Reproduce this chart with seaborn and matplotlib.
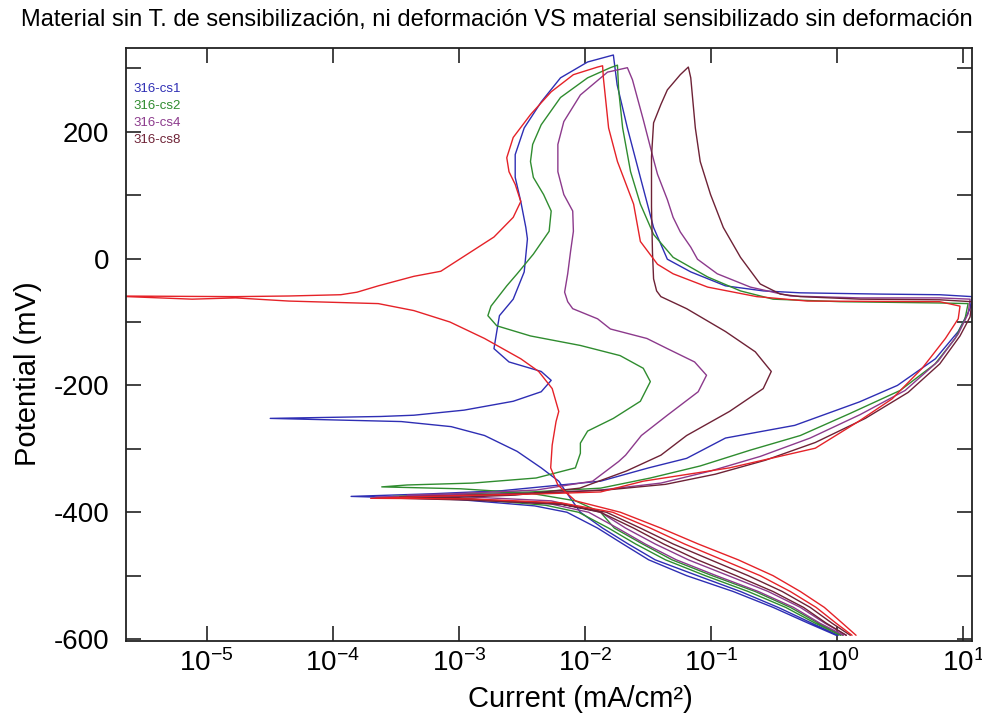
import matplotlib
matplotlib.use("Agg")
import matplotlib.pyplot as plt
import matplotlib.ticker as mticker
import seaborn as sns

# (current mA/cm2, potential mV) in scan order
cs1 = [(0.98, -594), (0.59, -575), (0.31, -550), (0.15, -525), (0.064, -500), (0.032, -475),
       (0.020, -450), (0.0126, -425), (0.0072, -400), (0.0040, -390), (0.0010, -380), (1.4e-4, -375),
       (5.9e-4, -371), (2.2e-3, -366), (6.4e-3, -357), (0.0133, -351), (0.032, -330), (0.064, -315),
       (0.13, -283), (0.46, -263), (1.5, -226), (3.0, -200), (6.0, -158), (9.1, -115), (11.3, -79),
       (11.7, -60), (6.5, -57), (2.2, -56), (0.51, -54), (0.26, -51), (0.13, -43), (0.069, -21),
       (0.045, -1), (0.035, 49), (0.0275, 128), (0.0217, 206), (0.018, 274), (0.0168, 321),
       (0.0105, 310), (0.0064, 285), (0.0045, 247), (0.0033, 206), (0.0028, 164), (0.0028, 128),
       (0.0031, 90), (0.0034, 49), (0.0035, 31), (0.0033, -21), (0.0027, -64), (0.0021, -90),
       (0.0020, -115), (0.0019, -142), (0.0025, -163), (0.0045, -178), (0.0054, -192), (0.0045, -210),
       (0.0027, -225), (0.0011, -239), (4.4e-4, -247), (2.4e-4, -249), (3.2e-5, -252),
       (3.5e-4, -257), (8.7e-4, -265), (1.6e-3, -279), (2.9e-3, -304), (4.5e-3, -330), (6.2e-3, -351),
       (7.2e-3, -370), (0.0092, -400), (0.0138, -425), (0.022, -450), (0.036, -475), (0.078, -500),
       (0.171, -525), (0.34, -550), (0.63, -575), (1.02, -594)]

cs2 = [(1.06, -594), (0.67, -575), (0.39, -550), (0.197, -525), (0.090, -500), (0.0435, -475),
       (0.0252, -450), (0.0154, -425), (0.0089, -400), (0.0049, -389), (1.24e-3, -379), (3.0e-4, -375),
       (1.03e-3, -371), (3.7e-3, -368), (0.0133, -362), (0.033, -346), (0.082, -327), (0.205, -302),
       (0.51, -279), (1.27, -244), (3.15, -208), (5.97, -166), (8.6, -126), (10.3, -95), (10.9, -71),
       (6.5, -70), (1.06, -68), (0.31, -64), (0.171, -51), (0.094, -29), (0.050, 2), (0.035, 38),
       (0.0275, 86), (0.023, 137), (0.0199, 206), (0.0185, 266), (0.0181, 305),
       (0.0159, 301), (0.0105, 285), (0.0064, 254), (0.0045, 211), (0.00385, 180), (0.0037, 153),
       (0.0039, 128), (0.0047, 101), (0.0054, 75), (0.0052, 43), (0.0039, 7), (0.0029, -24),
       (0.0024, -43), (0.0018, -75), (0.0017, -90), (0.0020, -106), (0.0037, -122), (0.0092, -137),
       (0.019, -153), (0.029, -173), (0.033, -194), (0.0275, -225), (0.0168, -252), (0.0105, -272),
       (0.0092, -291), (0.0092, -307), (0.0084, -330), (0.0041, -346), (1.29e-3, -354), (3.9e-4, -357),
       (2.45e-4, -360), (1.03e-3, -363), (3.7e-3, -370), (0.0084, -382), (0.0133, -400), (0.0171, -425),
       (0.0286, -450), (0.049, -475), (0.102, -500), (0.224, -525), (0.425, -550), (0.71, -575),
       (1.10, -594)]

cs4 = [(1.12, -594), (0.73, -575), (0.45, -550), (0.237, -525), (0.110, -500), (0.053, -475),
       (0.030, -450), (0.0181, -425), (0.0107, -400), (0.0054, -387), (1.03e-3, -379), (2.2e-4, -376),
       (8.6e-4, -373), (3.7e-3, -370), (0.0133, -365), (0.040, -354), (0.099, -335), (0.245, -312),
       (0.61, -283), (1.52, -246), (3.45, -208), (6.3, -162), (9.1, -119), (10.9, -87), (11.3, -64),
       (6.5, -62), (1.52, -62), (0.425, -59), (0.31, -53), (0.205, -45), (0.112, -24), (0.078, -1),
       (0.069, 18), (0.057, 42), (0.050, 65), (0.045, 93), (0.0376, 133), (0.035, 156), (0.029, 219),
       (0.0238, 282), (0.0217, 301),
       (0.0151, 294), (0.0092, 258), (0.0068, 216), (0.0061, 180), (0.0061, 137), (0.0068, 101),
       (0.0080, 75), (0.0081, 43), (0.0077, 12), (0.0073, -24), (0.0069, -53), (0.0073, -68),
       (0.0080, -79), (0.0126, -95), (0.0159, -111), (0.031, -126), (0.045, -142), (0.074, -163),
       (0.092, -184), (0.079, -210), (0.045, -247), (0.028, -279), (0.021, -310), (0.0185, -320),
       (0.0115, -351), (0.0041, -365), (8.6e-4, -371), (3.9e-4, -373),
       (1.24e-3, -376), (0.0054, -382), (0.0133, -400), (0.021, -425), (0.036, -450), (0.066, -475),
       (0.137, -500), (0.284, -525), (0.51, -550), (0.80, -575), (1.18, -594)]

cs8 = [(1.18, -594), (0.82, -575), (0.54, -550), (0.31, -525), (0.158, -500), (0.078, -475),
       (0.042, -450), (0.0243, -425), (0.0133, -400), (0.0064, -387), (1.24e-3, -379), (3.4e-4, -376),
       (1.24e-3, -373), (4.5e-3, -370), (0.0146, -365), (0.0435, -356), (0.108, -340), (0.269, -318),
       (0.67, -290), (1.67, -252), (3.65, -211), (6.5, -166), (9.4, -122), (11.3, -92), (11.7, -68),
       (6.5, -65), (1.52, -64), (0.51, -60), (0.354, -56), (0.245, -40), (0.171, 2), (0.125, 49),
       (0.099, 101), (0.082, 153), (0.075, 206), (0.069, 285), (0.066, 302),
       (0.057, 290), (0.045, 266), (0.040, 243), (0.035, 214), (0.0337, 161), (0.0337, 82),
       (0.0343, 10), (0.035, -32), (0.037, -51), (0.040, -60), (0.064, -79), (0.130, -115),
       (0.224, -147), (0.30, -178), (0.259, -205), (0.140, -241), (0.064, -279), (0.040, -310),
       (0.0213, -335), (0.0091, -362), (0.0028, -373), (5.9e-4, -378), (3.5e-4, -378),
       (1.24e-3, -381), (0.0064, -387), (0.0148, -400), (0.0275, -425), (0.050, -450), (0.099, -475),
       (0.197, -500), (0.367, -525), (0.61, -550), (0.91, -575), (1.27, -594)]

# extra red run (no legend entry in the original)
ref = [(1.31, -594), (0.98, -575), (0.68, -550), (0.425, -525), (0.245, -500), (0.123, -475),
       (0.0615, -450), (0.033, -425), (0.0166, -400), (0.0064, -385), (1.24e-3, -379), (2.0e-4, -378),
       (8.6e-4, -374), (4.5e-3, -371), (0.0133, -368), (0.029, -351), (0.140, -330), (0.67, -299),
       (1.47, -257), (2.73, -221), (4.71, -173), (7.2, -126), (9.1, -95), (9.4, -75),
       (6.5, -68), (0.58, -67), (0.23, -60), (0.094, -45), (0.050, -24), (0.0376, -9), (0.0275, 27),
       (0.0243, 86), (0.0181, 153), (0.0154, 206), (0.0140, 285), (0.0138, 304),
       (0.0126, 302), (0.0081, 290), (0.0054, 263), (0.0037, 227), (0.0027, 191), (0.0024, 159),
       (0.0025, 137), (0.0028, 117), (0.0031, 90), (0.0027, 65), (0.0019, 34), (1.17e-3, 7),
       (7.2e-4, -20), (4.4e-4, -28), (2.3e-4, -43), (1.56e-4, -53), (1.16e-4, -57), (4.5e-5, -59),
       (1.7e-5, -60), (1.75e-6, -59),
       (7.7e-6, -64), (1.7e-5, -62), (4.5e-5, -67), (2.3e-4, -71), (4.4e-4, -82), (8.5e-4, -100),
       (1.6e-3, -126), (3.1e-3, -158), (4.3e-3, -178), (5.5e-3, -205), (6.2e-3, -241), (5.9e-3, -257),
       (5.5e-3, -294), (5.35e-3, -330), (6.1e-3, -357), (8.4e-3, -382), (0.0191, -400), (0.040, -425),
       (0.079, -450), (0.164, -475), (0.31, -500), (0.51, -525), (0.79, -550), (1.10, -575),
       (1.41, -594)]

series = [("316-cs1", cs1, "#2e2eb4"), ("316-cs2", cs2, "#2f8c2f"),
          ("316-cs4", cs4, "#8c3a8c"), ("316-cs8", cs8, "#6e2236"), (None, ref, "#e52228")]

decades = [1e-5, 1e-4, 1e-3, 1e-2, 1e-1, 1e0, 1e1]

title = "Material sin T. de sensibilización, ni deformación VS material sensibilizado sin deformación"

sns.set_theme(style="ticks")
plt.rcParams["font.family"] = ["Liberation Sans", "DejaVu Sans"]
plt.rcParams["axes.unicode_minus"] = False
plt.rcParams["text.color"] = "black"
plt.rcParams["axes.labelcolor"] = "black"
plt.rcParams["xtick.labelcolor"] = "black"
plt.rcParams["ytick.labelcolor"] = "black"

fig = plt.figure(figsize=(9.82, 7.19), dpi=100)
ax = fig.add_axes([0.1283, 0.1085, 0.8615, 0.8247])

for name, pts, col in series:
    sns.lineplot(x=[p[0] for p in pts], y=[p[1] for p in pts], ax=ax, sort=False,
                 estimator=None, color=col, linewidth=1.0, label=name, legend=False)

ax.set_xscale("log")
ax.set_xlim(2.3e-6, 11.7)
ax.set_ylim(-603, 332)
ax.xaxis.set_major_locator(mticker.FixedLocator(decades))
ax.xaxis.set_major_formatter(mticker.LogFormatterSciNotation())
ax.xaxis.set_minor_locator(mticker.NullLocator())
ax.yaxis.set_major_locator(mticker.MultipleLocator(200))
ax.yaxis.set_minor_locator(mticker.MultipleLocator(100))
ax.tick_params(which="both", direction="in", top=True, right=True, length=11, width=1.2,
               color="#222222")
ax.tick_params(axis="y", labelsize=20, pad=12)
ax.tick_params(axis="x", labelsize=20, pad=6)
for s in ax.spines.values():
    s.set_color("#222222")
    s.set_linewidth(1.3)

ax.set_xlabel("Current (mA/cm²)", fontsize=21)
ax.set_ylabel("Potential (mV)", fontsize=21)
ax.xaxis.set_label_coords(0.537, -0.075)
ax.yaxis.set_label_coords(-0.099, 0.45)

handles = [ax.lines[k] for k in range(4)]
leg = ax.legend(handles, [s[0] for s in series[:4]], loc="upper left",
                bbox_to_anchor=(0.002, 0.95), frameon=False, fontsize=9.5,
                handlelength=0, handletextpad=0, labelspacing=0.36, labelcolor="linecolor",
                borderaxespad=0)

fig.text(0.506, 0.972, title, ha="center", va="center", fontsize=17)

fig.savefig("out.png", dpi=100)
